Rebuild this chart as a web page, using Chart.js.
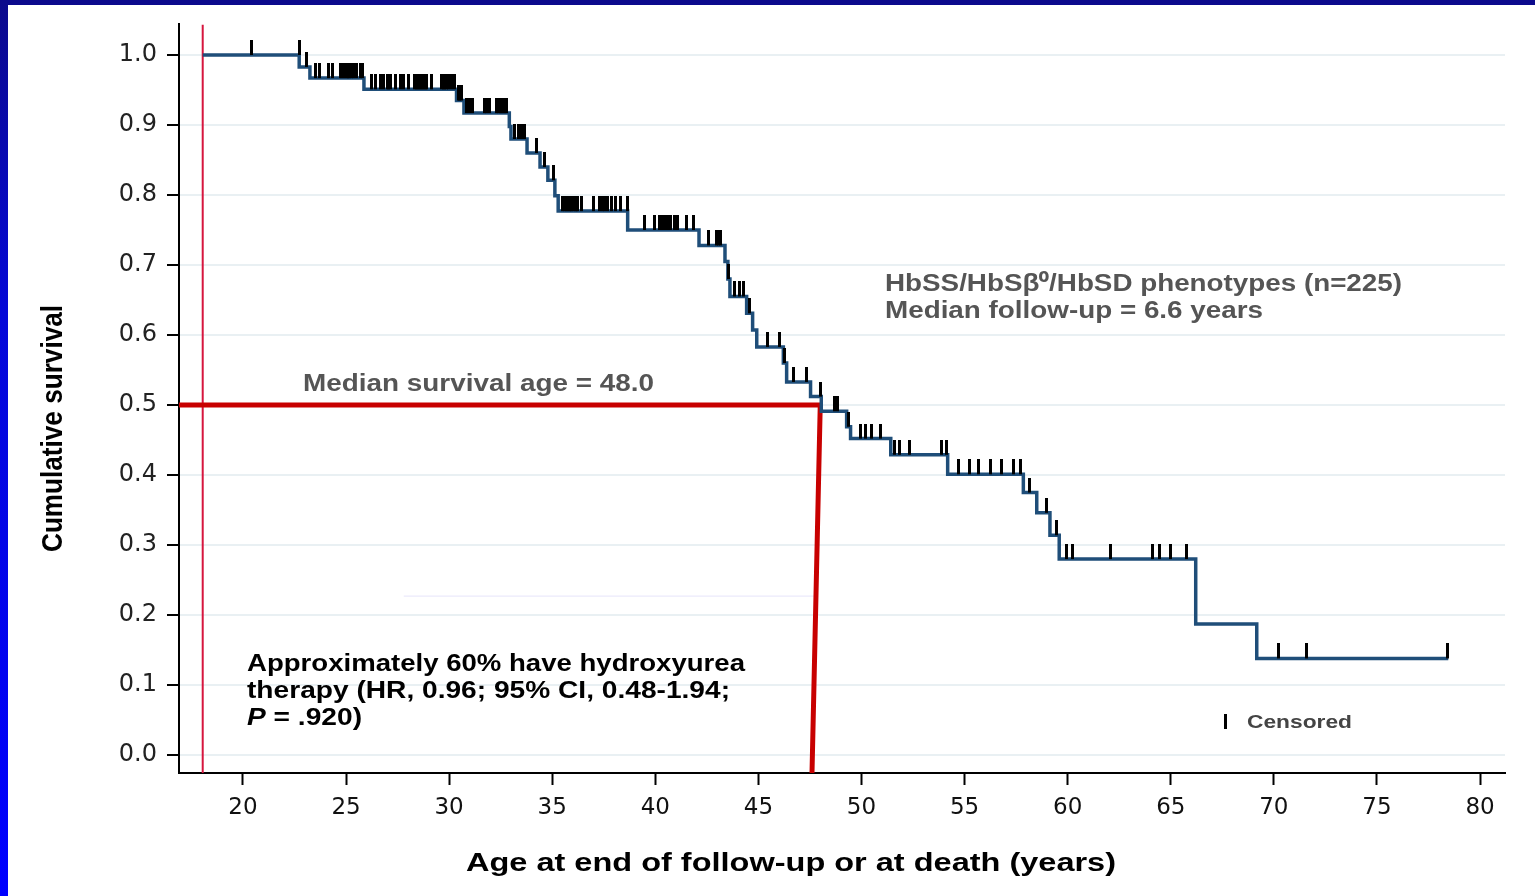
<!DOCTYPE html>
<html>
<head>
<meta charset="utf-8">
<script src="https://cdn.jsdelivr.net/npm/chart.js@4/dist/chart.umd.min.js"></script>
<style>
    html, body { margin: 0; padding: 0; }
    body {
        width: 1535px; height: 896px; overflow: hidden; position: relative;
        background: linear-gradient(to bottom, #0c0a8c 0%, #0508d8 35%, #0000ff 100%);
    }
    #sheet { position: absolute; left: 8px; top: 5px; right: 0; bottom: 0; background: #fff; }
    #km { position: absolute; left: 0; top: 0; }
</style>
</head>
<body>
<div id="sheet"></div>
<canvas id="km" width="1535" height="896"></canvas>
<script>
// Kaplan-Meier steps: age of each drop and survival just after it
const kmAges = [18.05, 22.73, 23.25, 25.87, 30.36, 30.72, 32.92, 33.0, 33.78, 34.41, 34.79, 35.13, 35.29,
    38.66, 42.12, 43.38, 43.52, 43.62, 44.43, 44.72, 44.92, 46.21, 46.37, 47.53, 48.05, 49.28, 49.47,
    51.42, 54.18, 57.85, 58.5, 59.14, 59.59, 66.21, 69.17, 78.46];
const kmSurvival = [1.0, 0.983, 0.967, 0.951, 0.935, 0.917, 0.898, 0.880, 0.860, 0.840, 0.821, 0.799, 0.777,
    0.750, 0.728, 0.705, 0.680, 0.655, 0.631, 0.607, 0.583, 0.560, 0.533, 0.512, 0.491, 0.469, 0.452,
    0.429, 0.401, 0.375, 0.346, 0.314, 0.280, 0.187, 0.138, 0.138];

// Ages of censored observations
const censorAges = [20.42, 22.72, 23.06,
    23.54, 23.73, 24.14, 24.35, 24.74, 24.80, 24.87, 24.94, 25.00, 25.07, 25.13, 25.19, 25.25, 25.35, 25.52, 25.68, 25.82,
    26.24, 26.45, 26.65, 26.81, 27.00, 27.08, 27.16, 27.42, 27.62, 27.81, 28.02, 28.34, 28.42, 28.49, 28.56, 28.63,
    28.70, 28.78, 28.85, 28.92, 29.15, 29.64, 29.72, 29.80, 29.88, 29.96, 30.12, 30.28, 30.44, 30.52, 30.61,
    30.85, 31.01, 31.14, 31.70, 31.82, 31.95, 32.31, 32.39, 32.47, 32.55, 32.63, 32.71, 32.79,
    33.19, 33.35, 33.53, 33.60, 33.68, 34.26, 34.65, 35.04,
    35.52, 35.60, 35.67, 35.75, 35.82, 35.89, 35.96, 36.04, 36.11, 36.18, 36.25, 36.40, 36.98, 37.27, 37.46,
    37.56, 37.66, 37.90, 38.09, 38.29, 38.63,
    39.50, 39.98, 40.18, 40.37, 40.47, 40.57, 40.66, 40.76, 40.95, 41.10, 41.52, 41.87,
    42.57, 42.98, 43.06, 43.14, 43.54, 43.86, 44.07, 44.27, 44.59, 45.43, 46.01, 46.29, 46.70, 47.32, 48.0,
    48.67, 48.83, 49.39, 49.93, 50.20, 50.49, 50.90, 51.62, 51.83, 52.35, 53.89, 54.10,
    54.70, 55.26, 55.67, 56.27, 56.80, 57.36, 57.69, 58.17, 58.95, 59.47,
    59.92, 60.24, 62.09, 64.12, 64.44, 64.99, 65.74, 70.22, 71.60, 78.43];

const xTickValues = [20, 25, 30, 35, 40, 45, 50, 55, 60, 65, 70, 75, 80];
const yTickValues = [0.0, 0.1, 0.2, 0.3, 0.4, 0.5, 0.6, 0.7, 0.8, 0.9, 1.0];

const xMin = 16.9, xMax = 81.21;
const yMin = -0.0257, yMax = 1.0437;

// Reference lines
const startAge = 18.05;
const medianAge = 48.0;
const medianFootAge = 47.6;
const medianLevel = 0.5;
const faintLineAges = [27.8, 47.75];
const faintLineLevel = 0.227;

/** Survival level of the step curve at a given age. */
function survivalAt(age) {
    let s = kmSurvival[0];
    for (let i = 0; i < kmAges.length; i++)
        if (kmAges[i] <= age) s = kmSurvival[i];
    return s;
}

/** Small vertical bar sitting on top of the point, used for censor marks. */
function censorMark() {
    const c = document.createElement('canvas');
    c.width = 3;
    c.height = 30;
    const g = c.getContext('2d');
    g.fillStyle = '#000';
    g.fillRect(0, 0, 3, 15);
    return c;
}

/** Draws text squeezed or stretched to a target width. */
function drawFitted(ctx, text, x, y, width, font, color, align) {
    ctx.save();
    ctx.font = font;
    ctx.fillStyle = color;
    ctx.textBaseline = 'alphabetic';
    ctx.textAlign = align || 'left';
    const m = ctx.measureText(text).width;
    ctx.translate(x, y);
    ctx.scale(width / m, 1);
    ctx.fillText(text, 0, 0);
    ctx.restore();
}

const textPlugin = {
    id: 'kmText',
    afterDraw(chart) {
        const ctx = chart.ctx;
        const bold = (px) => `bold ${px}px "Liberation Sans", Arial, sans-serif`;

        drawFitted(ctx, 'HbSS/HbSβ⁰/HbSD phenotypes (n=225)', 885, 291, 517, bold(23), '#555');
        drawFitted(ctx, 'Median follow-up = 6.6 years', 885, 318, 378, bold(23), '#555');
        drawFitted(ctx, 'Median survival age = 48.0', 303, 391, 351, bold(23), '#555');
        drawFitted(ctx, 'Approximately 60% have hydroxyurea', 247, 671, 498, bold(23), '#000');
        drawFitted(ctx, 'therapy (HR, 0.96; 95% CI, 0.48-1.94;', 247, 698, 483, bold(23), '#000');

        // "P = .920)" with italic P
        ctx.save();
        ctx.font = 'italic ' + bold(23);
        const wP = ctx.measureText('P').width;
        ctx.font = bold(23);
        const wRest = ctx.measureText(' = .920)').width;
        const s = 115 / (wP + wRest);
        ctx.translate(247, 725);
        ctx.scale(s, 1);
        ctx.fillStyle = '#000';
        ctx.font = 'italic ' + bold(23);
        ctx.fillText('P', 0, 0);
        ctx.font = bold(23);
        ctx.fillText(' = .920)', wP, 0);
        ctx.restore();

        // Censored legend
        ctx.save();
        ctx.fillStyle = '#000';
        ctx.fillRect(1224, 714, 3, 15);
        ctx.restore();
        drawFitted(ctx, 'Censored', 1247, 728, 105, bold(19), '#444');

        // Axis titles
        drawFitted(ctx, 'Age at end of follow-up or at death (years)', 466, 871, 650, bold(26), '#000');
        ctx.save();
        ctx.translate(62, 428.5);
        ctx.rotate(-Math.PI / 2);
        drawFitted(ctx, 'Cumulative survival', 0, 0, 247,
            'bold 29px "Liberation Sans Narrow", "Liberation Sans", Arial, sans-serif', '#000', 'center');
        ctx.restore();
    }
};

const kmPoints = kmAges.map((a, i) => ({x: a, y: kmSurvival[i]}));
const censorPoints = censorAges.map(a => ({x: a, y: survivalAt(a)}));

const chart = new Chart(document.getElementById('km'), {
    type: 'line',
    data: {
        datasets: [{
            data: censorPoints,
            showLine: false,
            pointStyle: censorMark(),
            pointRadius: 3,
            order: 0
        }, {
            data: kmPoints,
            stepped: true,
            borderColor: '#1f4e79',
            borderWidth: 3.5,
            pointRadius: 0,
            fill: false,
            order: 1
        }, {
            data: [{x: xMin, y: medianLevel}, {x: medianAge, y: medianLevel}, {x: medianFootAge, y: yMin}],
            borderColor: '#c80000',
            borderWidth: 5,
            pointRadius: 0,
            borderJoinStyle: 'miter',
            order: 2
        }, {
            data: [{x: startAge, y: yMin}, {x: startAge, y: yMax}],
            borderColor: '#d6163e',
            borderWidth: 2,
            pointRadius: 0,
            order: 3
        }, {
            data: [{x: faintLineAges[0], y: faintLineLevel}, {x: faintLineAges[1], y: faintLineLevel}],
            borderColor: '#e6e4fa',
            borderWidth: 1,
            pointRadius: 0,
            order: 4
        }]
    },
    options: {
        responsive: false,
        animation: false,
        events: [],
        layout: {
            padding: {left: 0, top: 22, right: 30, bottom: 0}
        },
        plugins: {
            legend: {display: false},
            tooltip: {enabled: false}
        },
        scales: {
            x: {
                type: 'linear',
                min: xMin,
                max: xMax,
                afterBuildTicks: (s) => { s.ticks = xTickValues.map(v => ({value: v})); },
                afterFit: (s) => { s.height = 123; },
                ticks: {
                    color: '#111',
                    padding: 9,
                    font: {family: '"DejaVu Sans", Verdana, sans-serif', size: 23},
                    callback: (v) => String(v)
                },
                grid: {
                    drawOnChartArea: false,
                    drawTicks: true,
                    tickLength: 12,
                    tickColor: '#000',
                    tickWidth: 2
                },
                border: {color: '#000', width: 2}
            },
            y: {
                type: 'linear',
                min: yMin,
                max: yMax,
                afterBuildTicks: (s) => { s.ticks = yTickValues.map(v => ({value: v})); },
                afterFit: (s) => { s.width = 179; },
                ticks: {
                    color: '#222',
                    padding: 10,
                    font: {family: '"DejaVu Sans", Verdana, sans-serif', size: 24},
                    callback: (v) => v.toFixed(1)
                },
                grid: {
                    color: '#e9f0f3',
                    lineWidth: 2,
                    tickLength: 12,
                    tickColor: '#000',
                    tickWidth: 2
                },
                border: {color: '#000', width: 2}
            }
        }
    },
    plugins: [textPlugin]
});
</script>
</body>
</html>
